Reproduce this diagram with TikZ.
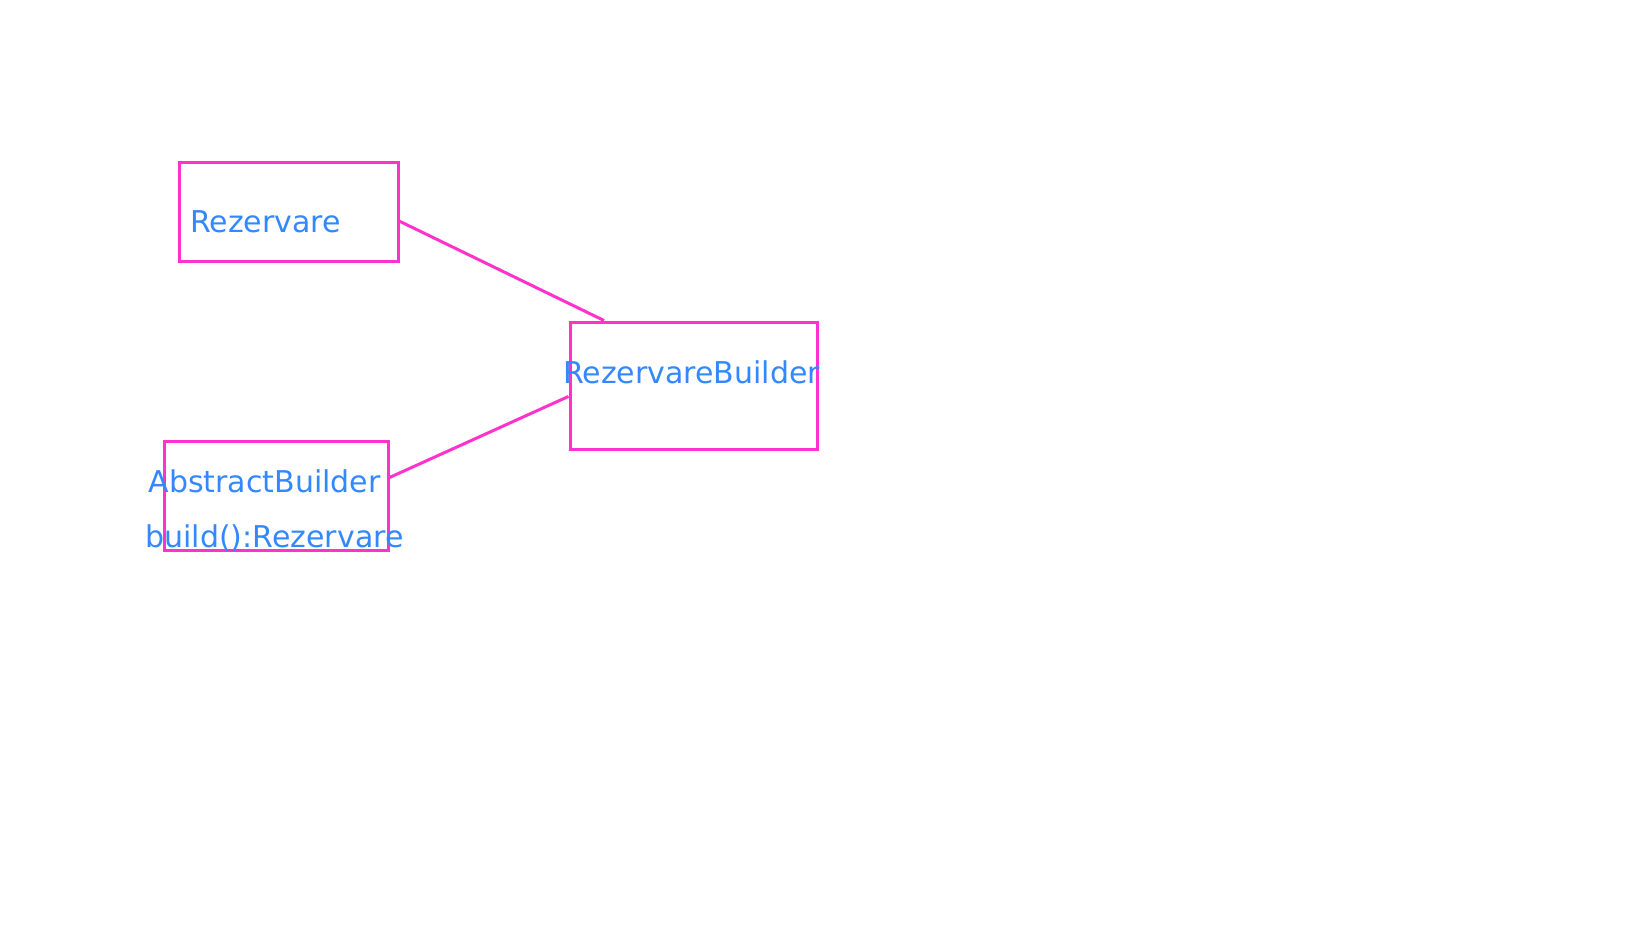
\documentclass[tikz,border=0pt]{standalone}
\usepackage{fontspec}
\setmainfont{DejaVu Sans}
\usepackage{tikz}
\definecolor{umlpink}{RGB}{255,51,204}
\definecolor{umlblue}{RGB}{51,136,255}

\begin{document}
\begin{tikzpicture}[x=1pt, y=-1pt,
    box/.style={draw=umlpink, line width=3pt, inner sep=0pt},
    lbl/.style={text=umlblue, inner sep=0pt, font=\fontsize{30}{36}\selectfont}]
            \useasboundingbox (0,0) rectangle (1648,927);

            % class boxes
            \node[box, minimum width=219pt, minimum height=99pt] (rez) at (288.5,211.5) {};
            \node[box, minimum width=247pt, minimum height=127pt] (rezb) at (693.5,385.5) {};
            \node[box, minimum width=224pt, minimum height=109pt] (absb) at (276,495.5) {};

            % class names
            \node[lbl, anchor=base west] (rezname) at (190,232) {Rezervare};
            \node[lbl, anchor=base] (rezbname) at (691.5,383) {RezervareBuilder};
            \node[lbl, anchor=base] (absbname) at (264.5,492) {AbstractBuilder};
            \node[lbl, anchor=base] (absbop) at (274.5,547) {build():Rezervare};

            % associations
            \draw[umlpink, line width=3pt] (rez.-5) -- (rezb.144.6);
            \draw[umlpink, line width=3pt] (absb.9.4) -- (rezb.-175.6);
\end{tikzpicture}
\end{document}
